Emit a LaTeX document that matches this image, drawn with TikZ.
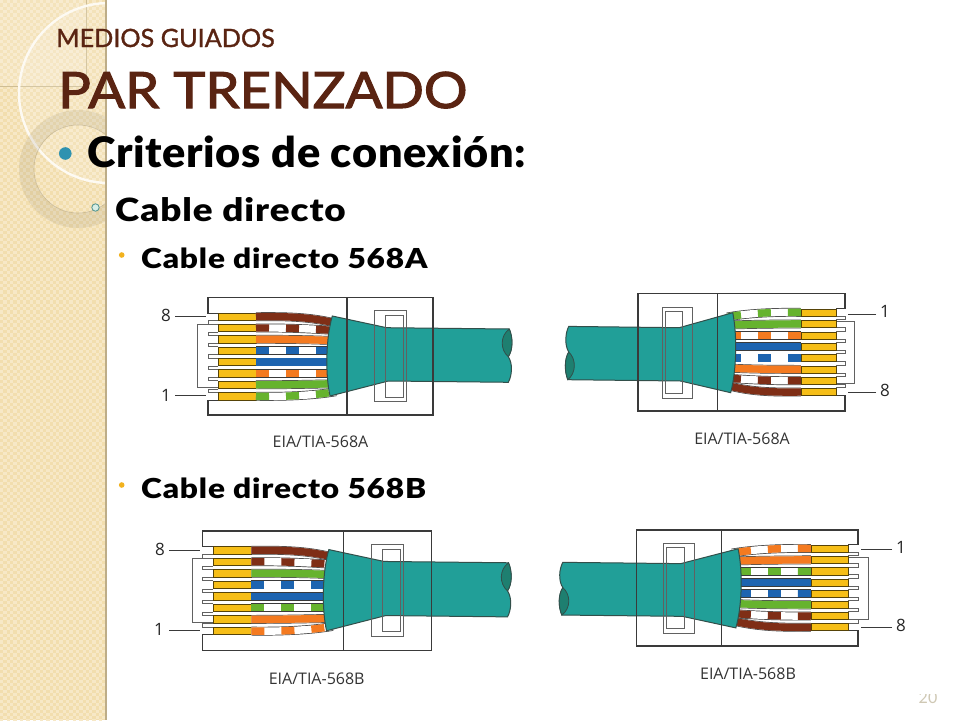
\documentclass[tikz,border=0pt]{standalone}
\usepackage{fontspec}
\setmainfont{Lato}
\newfontfamily\titlef[FakeBold=1.2]{Lato}
\newfontfamily\titlew[FakeBold=2.2,FakeStretch=1.09]{Lato}
\newfontfamily\heavy[FakeStretch=1.03,LetterSpace=1.5]{Lato Black}
\newfontfamily\heavyw[FakeStretch=1.15,LetterSpace=3]{Lato Black}
\newfontfamily\capfont{Open Sans}
\definecolor{titlebr}{HTML}{5A2412}
\definecolor{strip}{HTML}{F2DEAE}
\definecolor{stripl}{HTML}{F7E8C6}
\definecolor{teal1}{HTML}{219F98}
\definecolor{teal2}{HTML}{1E7F70}
\definecolor{wbrown}{HTML}{7F2E16}
\definecolor{worange}{HTML}{F47A20}
\definecolor{wblue}{HTML}{1D64B0}
\definecolor{wgreen}{HTML}{66B32E}
\definecolor{wyellow}{HTML}{F6BE17}
\definecolor{ln}{HTML}{3A3A3A}
\definecolor{bull}{HTML}{2E92B0}
\definecolor{ringb}{HTML}{5B9A94}
\definecolor{ringf}{HTML}{D8EEE6}
\definecolor{smallb}{HTML}{F2B21E}
\definecolor{pagenum}{HTML}{CFC8B4}
\tikzset{
 boxline/.style={draw=ln,line width=1.1pt},
 thinline/.style={draw=ln!80,line width=1pt},
 leader/.style={draw=ln,line width=.8pt},
 numlabel/.style={font=\capfont\fontsize{17}{17}\selectfont,text=black!85,inner sep=0pt},
 caplabel/.style={font=\capfont\fontsize{16}{17}\selectfont,text=black!80,inner sep=0pt},
 bodytext/.style={anchor=base west,inner sep=0pt,text=black},
 titletext/.style={anchor=base west,inner sep=0pt,text=titlebr}
}
% #1,#2 origin, #3,#4 scales, #5 colour of pairs 3/6, #6 colour of pairs 7/8
\newcommand\rjplug[6]{%
\begin{scope}[shift={(#1,#2)},xscale=#3,yscale=#4]
 \fill[white] (0,0) rectangle (225,117.3);
 \draw[boxline] (10,15.6) -- (0,15.6) -- (0,0) -- (225,0) -- (225,117.3) -- (0,117.3) -- (0,102.4) -- (10,102.4);
 \foreach \y in {19,30.3,41.6,53,64.3,75.6,87.1}{
   \draw[thinline] (10,\y+4.2) -- (0,\y+4.2) -- (0,\y+7.6) -- (10,\y+7.6);
 }
 \draw[thinline] (10,27.2) -- (-10.5,27.2) -- (-10.5,89.8) -- (10,89.8);
 \foreach \y in {19,30.3,41.6,53,64.3,75.6,87.1,98.6}{
   \draw[draw=black!65!wyellow,fill=wyellow,line width=.6pt] (10,\y-3.6) rectangle (48,\y+3.6);
 }
 \foreach \ya/\xb/\yb/\xc/\yc/\xd/\yd/\col/\don/\doff in {
   19/85/18.5/105/20/128/25.5/wbrown/400/1,
   30.3/75/30/105/31/128/33/wbrown/13/17,
   41.6/85/41.6/105/42/128/43/#5/400/1,
   53/85/53/105/53/128/53/wblue/13/17,
   64.3/85/64.3/105/64.3/128/64.3/wblue/400/1,
   75.6/85/75.6/105/75.6/128/75.6/#5/13/17,
   87.1/85/87/105/86.5/128/86/#6/400/1,
   98.6/75/99/105/98/128/94/#6/13/17}{
   \draw[draw=ln,line width=8.8pt] (48,\ya) .. controls (\xb,\yb) and (\xc,\yc) .. (\xd,\yd);
   \draw[draw=white,line width=7.4pt] (48,\ya) .. controls (\xb,\yb) and (\xc,\yc) .. (\xd,\yd);
   \draw[draw=\col,line width=7.4pt,dash pattern=on \don pt off \doff pt] (48,\ya) .. controls (\xb,\yb) and (\xc,\yc) .. (\xd,\yd);
 }
 \draw[fill=teal1,draw=ln!70!teal2,line width=1pt]
   (124.3,18.3) .. controls (118,40) and (117,75) .. (122,98.3)
   -- (180.3,83.3) -- (300.3,84.6)
   .. controls (304,78) and (305,66) .. (300.3,59)
   .. controls (305,52) and (305,40) .. (301.3,31.3)
   -- (178.7,30) -- cycle;
 \draw[fill=teal2,draw=ln!70!teal2,line width=.8pt]
   (301.3,31.3) .. controls (292,38) and (292,52) .. (300.3,59)
   .. controls (305,52) and (305,40) .. (301.3,31.3) -- cycle;
 \draw[boxline] (139,0) -- (139,117.3);
 \draw[boxline] (225,0) -- (225,117.3);
 \draw[thinline] (166,13) rectangle (198.3,104);
 \draw[thinline] (177,18) rectangle (195.3,99.3);
\end{scope}}
\begin{document}
\begin{tikzpicture}[x=1pt,y=-1pt]
\useasboundingbox (0,0) rectangle (960,720);
\fill[white] (0,0) rectangle (960,720);
% decorated strip
\begin{scope}
 \clip (0,0) rectangle (105,720);
 \fill[strip] (0,0) rectangle (105,720);
 \foreach \i in {0,...,15}{
  \foreach \j in {0,...,218}{
   \pgfmathtruncatemacro\k{mod(\j,2)}
   \fill[stripl] (\i*6.6+\k*3.3,\j*3.3) rectangle ++(3.3,3.3);
  }
 }
 \fill[white,opacity=.16] (0,0) rectangle (86,86);
 \draw[draw=black!15!strip,line width=.6pt] (0,86) -- (86,86) -- (86,0);
 \fill[white,opacity=.14] (109,93) circle[radius=90];
 \draw[draw=white!85!strip,line width=2.4pt] (109,93) circle[radius=90];
 \fill[black!45!strip,opacity=.14,even odd rule] (78,169) circle[radius=59] (78,169) circle[radius=44];
 \draw[draw=black!45!strip,opacity=.3,line width=.6pt] (78,169) circle[radius=44];
\end{scope}
\fill[black!22!strip] (105,0) rectangle (107,720);
% title
\node[titletext,font=\titlef\fontsize{25.2}{26}\selectfont] (t1) at (56,47) {MEDIOS GUIADOS};
\node[titletext,font=\titlew\fontsize{50}{52}\selectfont] (t2) at (58,108) {PAR TRENZADO};
% bullets
\fill[bull] (65.3,153.5) circle[radius=6.3];
\draw[draw=ringb,fill=ringf,line width=.9pt] (95.5,207.5) circle[radius=3.7];
\fill[smallb] (121.7,255) circle[radius=2.8];
\fill[smallb] (121.7,485) circle[radius=2.8];
\node[bodytext,font=\heavy\fontsize{42}{44}\selectfont] (b1) at (87,167) {Criterios de conexión:};
\node[bodytext,font=\heavyw\fontsize{32}{34}\selectfont] (b2) at (115,221) {Cable directo};
\node[bodytext,font=\heavyw\fontsize{27.5}{30}\selectfont] (b3) at (141,268) {Cable directo 568A};
\node[bodytext,font=\heavyw\fontsize{27.5}{30}\selectfont] (b4) at (141,498) {Cable directo 568B};
% plugs
\rjplug{208}{297.7}{1}{1}{worange}{wgreen}
\rjplug{845}{411}{-.92}{-1}{worange}{wgreen}
\rjplug{202.7}{531}{1.015}{1.015}{wgreen}{worange}
\rjplug{858}{646}{-.983}{-.989}{wgreen}{worange}
% labels and leaders
\node[numlabel] (a8) at (166,315) {8};
\node[numlabel] (a1) at (166,395) {1};
\coordinate (a8t) at (206,316.3); \coordinate (a1t) at (206,395.7);
\draw[leader] (175,316.3) -- (a8t);
\draw[leader] (175,395.7) -- (a1t);
\node[caplabel] (ca) at (320.5,442) {EIA/TIA-568A};
\node[numlabel] (c1) at (885,311.7) {1};
\node[numlabel] (c8) at (885,390.7) {8};
\coordinate (c1t) at (848,314); \coordinate (c8t) at (848,392.3);
\draw[leader] (876,314) -- (c1t);
\draw[leader] (876,392.3) -- (c8t);
\node[caplabel] (cc) at (742,439) {EIA/TIA-568A};
\node[numlabel] (e8) at (160,549) {8};
\node[numlabel] (e1) at (159,629) {1};
\coordinate (e8t) at (200,550.3); \coordinate (e1t) at (200,630.3);
\draw[leader] (169,550.3) -- (e8t);
\draw[leader] (169,630.3) -- (e1t);
\node[caplabel] (ce) at (316.7,679) {EIA/TIA-568B};
\node[numlabel] (g1) at (901,547) {1};
\node[numlabel] (g8) at (901,625) {8};
\coordinate (g1t) at (861,549.3); \coordinate (g8t) at (861,627.3);
\draw[leader] (892,549.3) -- (g1t);
\draw[leader] (892,627.3) -- (g8t);
\node[caplabel] (cg) at (748,674) {EIA/TIA-568B};
\begin{scope}
 \clip (900,694) rectangle (950,712);
 \node[anchor=base,font=\fontsize{16}{16}\selectfont,text=pagenum,inner sep=0pt] (pg) at (928,703) {20};
\end{scope}
\end{tikzpicture}
\end{document}
